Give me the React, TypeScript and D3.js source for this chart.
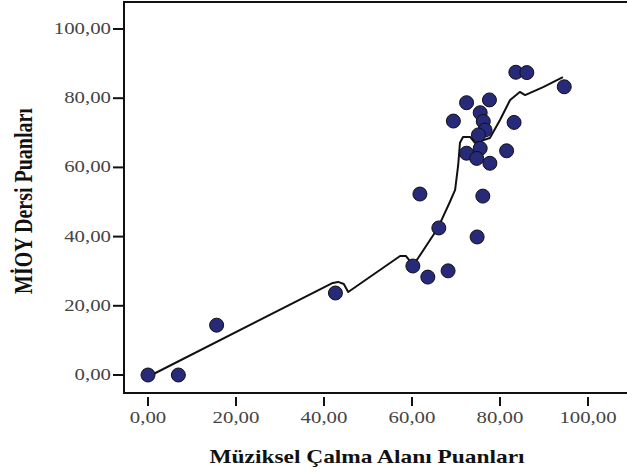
import React from 'react'
import * as d3 from 'd3'

// Müziksel Çalma Alanı (x) vs MİOY Dersi (y) scores
const calmaScores = [0, 6.9, 15.6, 42.6, 60.2, 63.6, 68.2, 61.8, 76.1, 66.1, 74.8, 83.6, 86.1, 72.4, 77.6, 69.4, 75.5, 76.2, 83.2, 76.6, 75.1, 75.5, 81.5, 72.4, 74.7, 77.7, 94.6]
const mioyScores = [0, 0, 14.4, 23.7, 31.5, 28.3, 30.1, 52.3, 51.7, 42.5, 39.9, 87.5, 87.4, 78.7, 79.5, 73.4, 75.8, 73.3, 73.0, 70.8, 69.4, 65.5, 64.8, 64.1, 62.6, 61.2, 83.3]

// fit line (loess)
const fitX = [0.8, 42.0, 43.2, 44.5, 45.5, 57.3, 58.6, 60.2, 61.4, 65.9, 68.6, 69.8, 70.5, 70.9, 71.6, 73.2, 74.3, 77.7, 80.0, 82.3, 84.5, 85.7, 89.8, 94.3]
const fitY = [0, 26.6, 26.9, 26.3, 24.0, 34.4, 34.4, 31.8, 33.8, 42.5, 50.0, 53.5, 60.7, 67.1, 68.8, 68.8, 67.1, 68.5, 73.7, 79.5, 81.8, 80.9, 83.2, 86.1]

const ticks = [0, 20, 40, 60, 80, 100]
const xTitle = 'Müziksel Çalma Alanı Puanları'
const yTitle = 'MİOY Dersi Puanları'

const fmt = (v: number) => v.toFixed(2).replace('.', ',')

export default function App() {
  const width = 627,
    height = 473

  const x = d3.scaleLinear().domain([0, 100]).range([148, 588])
  const y = d3.scaleLinear().domain([0, 100]).range([375, 29])

  const frame = { left: 124, top: 2, right: 640, bottom: 393 }
  const stretch = 1.3

  const line = d3
    .line<number>()
    .x((d, i) => x(fitX[i]))
    .y((d, i) => y(fitY[i]))

  const font = '"Liberation Serif", "Times New Roman", serif'

  return (
    <svg
      width={width}
      height={height}
      style={{ position: 'absolute', left: 0, top: 0, background: '#fff' }}
      fontFamily={font}
    >
      <rect x={0} y={0} width={width} height={height} fill="#fff" />
      <path
        d={`M${frame.right},${frame.top}H${frame.left}V${frame.bottom}H${frame.right}`}
        fill="none"
        stroke="#111"
        strokeWidth={2}
      />

      {/* y axis */}
      {ticks.map(t => (
        <g key={'y' + t}>
          <line x1={113} x2={frame.left} y1={y(t)} y2={y(t)} stroke="#111" strokeWidth={2} />
          <text
            transform={`translate(111,${y(t) + 5}) scale(${stretch},1)`}
            textAnchor="end"
            fontSize={16}
            fill="#444"
          >
            {fmt(t)}
          </text>
        </g>
      ))}

      {/* x axis */}
      {ticks.map(t => (
        <g key={'x' + t}>
          <line x1={x(t)} x2={x(t)} y1={397} y2={406} stroke="#111" strokeWidth={2} />
          <text
            transform={`translate(${x(t)},${423}) scale(${stretch},1)`}
            textAnchor="middle"
            fontSize={16}
            fill="#444"
          >
            {fmt(t)}
          </text>
        </g>
      ))}

      <path d={line(fitX) || ''} fill="none" stroke="#111" strokeWidth={2} strokeLinejoin="round" />

      {calmaScores.map((v, i) => (
        <circle
          key={i}
          cx={x(v)}
          cy={y(mioyScores[i])}
          r={7}
          fill="#262a78"
          stroke="#111"
          strokeWidth={1}
        />
      ))}

      <text
        transform={`translate(367,463) scale(${stretch},1)`}
        textAnchor="middle"
        fontSize={18}
        fontWeight="bold"
        fill="#111"
      >
        {xTitle}
      </text>
      <text
        transform={`translate(32,201) scale(${stretch},1) rotate(-90)`}
        textAnchor="middle"
        fontSize={20}
        fontWeight="bold"
        fill="#111"
      >
        {yTitle}
      </text>
    </svg>
  )
}
